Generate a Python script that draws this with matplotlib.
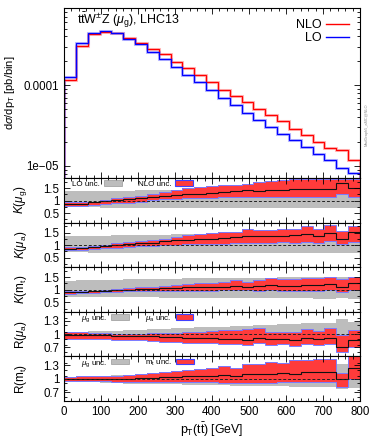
import numpy as np
import matplotlib
matplotlib.use("Agg")
import matplotlib.pyplot as plt
from matplotlib.patches import Patch
from matplotlib.lines import Line2D
from matplotlib.ticker import FixedLocator, MultipleLocator, NullFormatter

plt.rcParams["font.family"] = ["Liberation Sans", "DejaVu Sans"]
plt.rcParams["mathtext.fontset"] = "custom"
plt.rcParams["mathtext.rm"] = "Liberation Sans"
plt.rcParams["mathtext.it"] = "Liberation Sans:italic"
plt.rcParams["mathtext.bf"] = "Liberation Sans:bold"

# === data: 25 bins of 32 GeV in pT(tt~) ===
edges = np.linspace(0, 800, 26)

nlo = [1.15e-4, 3.04e-4, 4.25e-4, 4.5e-4, 4.37e-4, 3.79e-4, 3.29e-4, 2.79e-4,
       2.40e-4, 1.93e-4, 1.61e-4, 1.33e-4, 1.10e-4, 8.83e-5, 7.3e-5, 6.21e-5,
       5.04e-5, 4.24e-5, 3.61e-5, 2.90e-5, 2.40e-5, 1.98e-5, 1.67e-5, 1.56e-5, 1.17e-5]
lo = [1.27e-4, 3.35e-4, 4.45e-4, 4.67e-4, 4.37e-4, 3.72e-4, 3.19e-4, 2.59e-4,
      2.08e-4, 1.69e-4, 1.33e-4, 1.10e-4, 8.83e-5, 7.03e-5, 5.65e-5, 4.54e-5,
      3.68e-5, 3.04e-5, 2.52e-5, 2.08e-5, 1.72e-5, 1.42e-5, 1.17e-5, 9.5e-6, 8.2e-6]

# K(mu_g)
k_g = [0.88, 0.88, 0.93, 0.97, 1.01, 1.05, 1.09, 1.14, 1.19, 1.22, 1.26, 1.28, 1.31,
       1.34, 1.37, 1.41, 1.39, 1.42, 1.44, 1.45, 1.47, 1.47, 1.48, 1.70, 1.52]
k_g_up = [0.93, 0.93, 0.96, 1.02, 1.09, 1.14, 1.20, 1.28, 1.36, 1.43, 1.49, 1.54, 1.59,
          1.61, 1.63, 1.68, 1.73, 1.78, 1.83, 1.85, 1.87, 1.87, 1.87, 1.88, 1.88]
k_g_dn = [0.80, 0.80, 0.84, 0.87, 0.89, 0.92, 0.96, 1.02, 1.07, 1.08, 1.09, 1.10, 1.12,
          1.14, 1.16, 1.16, 1.13, 1.14, 1.15, 1.16, 1.16, 1.16, 1.16, 1.25, 1.15]
lo_g_up = [1.38, 1.38, 1.39, 1.39, 1.40, 1.40, 1.41, 1.42, 1.42, 1.43, 1.44, 1.44, 1.45,
           1.45, 1.46, 1.46, 1.47, 1.47, 1.48, 1.48, 1.49, 1.49, 1.50, 1.55, 1.50]
lo_g_dn = [0.73, 0.73, 0.73, 0.72, 0.72, 0.72, 0.72, 0.72, 0.71, 0.71, 0.71, 0.71, 0.71,
           0.70, 0.70, 0.70, 0.70, 0.70, 0.70, 0.69, 0.69, 0.69, 0.69, 0.72, 0.69]

# K(mu_a)
k_a = [0.84, 0.87, 0.92, 0.96, 1.00, 1.04, 1.08, 1.10, 1.16, 1.19, 1.22, 1.23, 1.26,
       1.29, 1.31, 1.35, 1.36, 1.36, 1.36, 1.39, 1.45, 1.36, 1.48, 1.26, 1.52]
k_a_up = [0.92, 0.94, 0.97, 1.02, 1.08, 1.13, 1.18, 1.22, 1.26, 1.33, 1.39, 1.45, 1.49,
          1.52, 1.52, 1.65, 1.62, 1.62, 1.65, 1.65, 1.78, 1.65, 1.80, 1.55, 1.75]
k_a_dn = [0.79, 0.81, 0.84, 0.87, 0.90, 0.93, 0.95, 0.98, 1.00, 1.02, 1.04, 1.05, 1.06,
          1.06, 1.07, 1.10, 1.10, 1.10, 1.13, 1.10, 1.13, 1.09, 1.16, 1.06, 1.13]
lo_a_up = [1.36, 1.36, 1.37, 1.38, 1.39, 1.40, 1.41, 1.41, 1.42, 1.43, 1.43, 1.44, 1.45,
           1.45, 1.46, 1.46, 1.47, 1.47, 1.48, 1.48, 1.49, 1.49, 1.50, 1.50, 1.50]
lo_a_dn = [0.71, 0.71, 0.70, 0.70, 0.70, 0.70, 0.70, 0.70, 0.69, 0.69, 0.69, 0.69, 0.69,
           0.69, 0.69, 0.68, 0.68, 0.68, 0.68, 0.68, 0.68, 0.68, 0.68, 0.69, 0.68]

# K(m_t)
k_t = [0.90, 0.90, 0.94, 0.96, 0.99, 1.00, 1.02, 1.04, 1.05, 1.06, 1.09, 1.09, 1.11,
       1.11, 1.15, 1.12, 1.15, 1.17, 1.15, 1.15, 1.17, 1.17, 1.21, 1.12, 1.25]
k_t_up = [0.96, 0.96, 0.97, 0.99, 1.02, 1.05, 1.09, 1.12, 1.15, 1.18, 1.21, 1.25, 1.27,
          1.30, 1.37, 1.32, 1.40, 1.45, 1.42, 1.44, 1.46, 1.47, 1.50, 1.44, 1.52]
k_t_dn = [0.84, 0.86, 0.88, 0.90, 0.92, 0.94, 0.95, 0.95, 0.96, 0.97, 0.97, 0.97, 0.97,
          0.98, 0.99, 0.98, 0.97, 0.98, 0.97, 0.97, 0.97, 0.97, 0.98, 0.92, 1.00]
lo_t_up = [1.36, 1.37, 1.38, 1.39, 1.40, 1.41, 1.42, 1.43, 1.44, 1.44, 1.45, 1.45, 1.46,
           1.46, 1.47, 1.47, 1.48, 1.48, 1.49, 1.49, 1.50, 1.50, 1.50, 1.50, 1.51]
lo_t_dn = [0.72, 0.72, 0.71, 0.71, 0.71, 0.70, 0.70, 0.70, 0.69, 0.69, 0.69, 0.68, 0.68,
           0.68, 0.67, 0.67, 0.67, 0.66, 0.66, 0.66, 0.66, 0.65, 0.65, 0.66, 0.65]

# mu_g uncertainty, shared by both R panels
mug_up = [1.04, 1.05, 1.06, 1.07, 1.08, 1.09, 1.10, 1.11, 1.12, 1.13, 1.14, 1.15, 1.16,
          1.17, 1.18, 1.19, 1.20, 1.21, 1.22, 1.23, 1.24, 1.25, 1.26, 1.33, 1.28]
mug_dn = [0.94, 0.93, 0.92, 0.91, 0.90, 0.89, 0.88, 0.88, 0.87, 0.87, 0.86, 0.86, 0.85,
          0.85, 0.84, 0.84, 0.83, 0.83, 0.83, 0.82, 0.82, 0.81, 0.81, 0.78, 0.80]

# R(mu_a)
r_a = [0.98, 0.98, 0.97, 0.97, 0.96, 0.96, 0.95, 0.95, 0.94, 0.93, 0.92, 0.92, 0.91,
       0.90, 0.90, 0.86, 0.92, 0.89, 0.90, 0.86, 0.92, 0.89, 0.91, 0.72, 0.86]
r_a_up = [1.04, 1.04, 1.03, 1.02, 1.01, 1.01, 1.01, 1.02, 1.02, 1.03, 1.04, 1.05, 1.06,
          1.10, 1.09, 1.11, 1.14, 1.05, 1.05, 1.04, 1.11, 1.08, 1.13, 0.98, 1.09]
r_a_dn = [0.90, 0.90, 0.89, 0.88, 0.87, 0.87, 0.86, 0.85, 0.83, 0.82, 0.81, 0.81, 0.80,
          0.77, 0.77, 0.75, 0.80, 0.75, 0.77, 0.74, 0.77, 0.75, 0.77, 0.60, 0.71]

# R(m_t)
r_t = [0.99, 0.99, 0.99, 0.99, 1.00, 1.00, 1.01, 1.02, 1.03, 1.04, 1.06, 1.06, 1.07,
       1.08, 1.07, 1.10, 1.10, 1.11, 1.13, 1.11, 1.14, 1.16, 1.16, 1.00, 1.23]
r_t_up = [1.04, 1.05, 1.06, 1.06, 1.07, 1.09, 1.11, 1.12, 1.14, 1.17, 1.20, 1.21, 1.24,
          1.28, 1.25, 1.34, 1.32, 1.37, 1.36, 1.41, 1.42, 1.44, 1.45, 1.13, 1.55]
r_t_dn = [0.94, 0.94, 0.94, 0.94, 0.93, 0.93, 0.93, 0.93, 0.93, 0.92, 0.92, 0.92, 0.92,
          0.91, 0.90, 0.91, 0.91, 0.91, 0.92, 0.92, 0.92, 0.93, 0.93, 0.81, 0.99]

RED = "#ff3b3b"
EDGE = "#7a7aff"
GRAY = "#bdbdbd"

# === figure layout (pixel-matched) ===
W, H = 382, 446
fig = plt.figure(figsize=(W / 100, H / 100), dpi=100)
left, right = 64 / W, 360 / W
def frame(top_px, bot_px):
    return fig.add_axes([left, 1 - bot_px / H, right - left, (bot_px - top_px) / H])

ax_main = frame(8, 178)
bounds = [178, 222.6, 267.2, 311.8, 356.4, 401]
rax = [frame(bounds[i], bounds[i + 1]) for i in range(5)]

TICKFS = 8.3
LABFS = 8.5

def style(ax):
    ax.tick_params(which="both", direction="in", top=True, right=True,
                   labelsize=TICKFS, width=0.6)
    ax.tick_params(which="major", length=4)
    ax.tick_params(which="minor", length=2)
    for s in ax.spines.values():
        s.set_linewidth(0.8)
    ax.set_xlim(0, 800)
    ax.xaxis.set_major_locator(MultipleLocator(100))
    ax.xaxis.set_minor_locator(MultipleLocator(20))

# --- main panel ---
ax = ax_main
style(ax)
ax.set_yscale("log")
ax.stairs(nlo, edges, color="#ff9090", lw=2.2, alpha=0.6)
ax.stairs(lo, edges, color="#9090ff", lw=2.2, alpha=0.6)
ax.stairs(nlo, edges, color="#ff0000", lw=0.9)
ax.stairs(lo, edges, color="#0000ff", lw=0.9)
ax.set_ylim(7.1e-6, 9e-4)
ax.yaxis.set_major_locator(FixedLocator([1e-5, 1e-4]))
ax.set_yticklabels(["1e\u221205", "0.0001"])
ax.yaxis.set_minor_locator(FixedLocator([8e-6, 9e-6] + [k * 1e-5 for k in range(2, 10)]
                                        + [k * 1e-4 for k in range(2, 10)]))
ax.yaxis.set_minor_formatter(NullFormatter())
ax.tick_params(labelbottom=False)
ax.set_ylabel(r"d$\sigma$/dp$_\mathrm{T}$ [pb/bin]", fontsize=8)
ax.yaxis.set_label_coords(-0.158, 0.5)
ax.text(0.045, 0.925, r"$\mathrm{t\bar{t}W^{\pm}Z}$ ($\mu_\mathrm{g}$), LHC13",
        transform=ax.transAxes, fontsize=9, va="center")
ax.legend(handles=[Line2D([], [], color="#ff0000", lw=1), Line2D([], [], color="#0000ff", lw=1)],
          labels=["NLO", "LO"], loc="upper right", frameon=False, markerfirst=False,
          fontsize=9, handlelength=1.8, labelspacing=0.05, borderaxespad=0.5,
          handletextpad=0.4)
fig.text(367 / W, 1 - 125 / H, "MadGraph5_aMC@NLO", rotation=90, fontsize=2.8,
         color="#888888", ha="center", va="center")

def band(ax, up, dn, color, edge=None):
    ax.stairs(up, edges, baseline=dn, fill=True, color=color, lw=0)
    if edge is not None:
        ax.stairs(up, edges, color=edge, lw=0.7)
        ax.stairs(dn, edges, color=edge, lw=0.7)

def small_legend(ax, lab1, lab2, x0):
    h = [Patch(facecolor=GRAY, edgecolor="#999999", lw=0.5),
         Patch(facecolor=RED, edgecolor="#4040ff", lw=0.8)]
    ax.legend(h, [lab1, lab2], loc="upper left", ncol=2, frameon=False,
              markerfirst=False, fontsize=5.8, handlelength=2.2, handleheight=0.7,
              columnspacing=2.0, handletextpad=0.5, borderaxespad=0.05,
              borderpad=0.2, bbox_to_anchor=(x0, 1.0))

k_panels = [
    (rax[0], k_g, k_g_up, k_g_dn, lo_g_up, lo_g_dn, r"$K(\mu_\mathrm{g})$"),
    (rax[1], k_a, k_a_up, k_a_dn, lo_a_up, lo_a_dn, r"$K(\mu_\mathrm{a})$"),
    (rax[2], k_t, k_t_up, k_t_dn, lo_t_up, lo_t_dn, r"$K(\mathrm{m_t})$"),
]
for ax, cen, up, dn, lup, ldn, lab in k_panels:
    style(ax)
    band(ax, lup, ldn, GRAY)
    band(ax, up, dn, RED, EDGE)
    ax.axhline(1, color="#222222", lw=0.7, ls=(0, (3, 2)))
    ax.stairs(cen, edges, color="#111111", lw=0.8)
    ax.set_ylim(0.12, 1.9)
    ax.yaxis.set_major_locator(FixedLocator([0.5, 1, 1.5]))
    ax.set_yticklabels(["0.5", "1", "1.5"])
    ax.yaxis.set_minor_locator(MultipleLocator(0.25))
    ax.tick_params(labelbottom=False)
    ax.set_ylabel(lab, fontsize=LABFS)
    ax.yaxis.set_label_coords(-0.118, 0.5)
small_legend(rax[0], "LO unc.", "NLO unc.", 0.02)

r_panels = [
    (rax[3], r_a, r_a_up, r_a_dn, r"R($\mu_\mathrm{a}$)", r"$\mu_\mathrm{g}$ unc.", r"$\mu_\mathrm{a}$ unc."),
    (rax[4], r_t, r_t_up, r_t_dn, r"R(m$_\mathrm{t}$)", r"$\mu_\mathrm{g}$ unc.", r"m$_\mathrm{t}$ unc."),
]
for ax, cen, up, dn, lab, l1, l2 in r_panels:
    style(ax)
    band(ax, mug_up, mug_dn, GRAY)
    band(ax, up, dn, RED, EDGE)
    ax.axhline(1, color="#222222", lw=0.7, ls=(0, (3, 2)))
    ax.stairs(cen, edges, color="#111111", lw=0.8)
    ax.set_ylim(0.5, 1.5)
    ax.yaxis.set_major_locator(FixedLocator([0.7, 1, 1.3]))
    ax.set_yticklabels(["0.7", "1", "1.3"])
    ax.yaxis.set_minor_locator(MultipleLocator(0.15))
    ax.set_ylabel(lab, fontsize=LABFS)
    ax.yaxis.set_label_coords(-0.118, 0.5)
    small_legend(ax, l1, l2, 0.05)
    if ax is not rax[4]:
        ax.tick_params(labelbottom=False)

rax[4].set_xlabel(r"p$_\mathrm{T}$(t$\bar{\mathrm{t}}$) [GeV]", fontsize=8.8, labelpad=2)

fig.savefig("out.png", dpi=100)
